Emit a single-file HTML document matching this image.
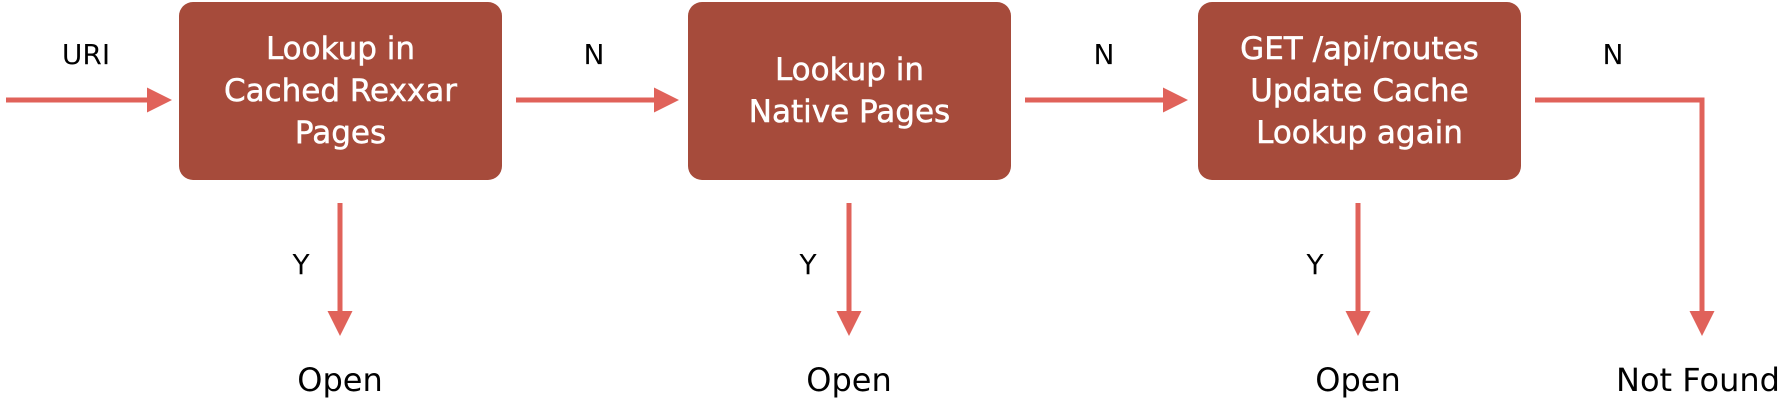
<!DOCTYPE html>
<html><head><style>
body{margin:0;background:#fff;width:1789px;height:407px;overflow:hidden;position:relative;font-family:"DejaVu Sans","Liberation Sans",sans-serif}
.box{position:absolute;top:2px;width:323px;height:178px;background:#a64b3b;border-radius:14px;color:#fff;font-size:31px;line-height:42px;display:flex;align-items:center;justify-content:center;text-align:center;-webkit-text-stroke:0.5px #fff}
.t{position:absolute;color:#000;transform:translateX(-50%);white-space:nowrap}
.l{font-size:28px}
.o{font-size:32px}
</style></head><body>
<div class="box" style="left:179px">Lookup in<br>Cached Rexxar<br>Pages</div>
<div class="box" style="left:688px">Lookup in<br>Native Pages</div>
<div class="box" style="left:1198px">GET /api/routes<br>Update Cache<br>Lookup again</div>
<svg width="1789" height="407" style="position:absolute;left:0;top:0">
<defs><marker id="a" markerWidth="5" markerHeight="5" refX="2.2" refY="2.5" orient="auto"><path d="M0,0 L5,2.5 L0,5 Z" fill="#e0625a"/></marker></defs>
<g stroke="#e0625a" stroke-width="5" fill="none" marker-end="url(#a)">
<path d="M6,100 H158"/>
<path d="M516,100 H665"/>
<path d="M1025,100 H1174"/>
<path d="M1535,100 H1702 V322"/>
<path d="M340,203 V322"/>
<path d="M849,203 V322"/>
<path d="M1358,203 V322"/>
</g></svg>
<div class="t l" style="left:86px;top:38px">URI</div>
<div class="t l" style="left:594px;top:38px">N</div>
<div class="t l" style="left:1104px;top:38px">N</div>
<div class="t l" style="left:1613px;top:38px">N</div>
<div class="t l" style="left:301px;top:248px">Y</div>
<div class="t l" style="left:808px;top:248px">Y</div>
<div class="t l" style="left:1315px;top:248px">Y</div>
<div class="t o" style="left:340px;top:361px">Open</div>
<div class="t o" style="left:849px;top:361px">Open</div>
<div class="t o" style="left:1358px;top:361px">Open</div>
<div class="t o" style="left:1698px;top:361px">Not Found</div>
</body></html>
